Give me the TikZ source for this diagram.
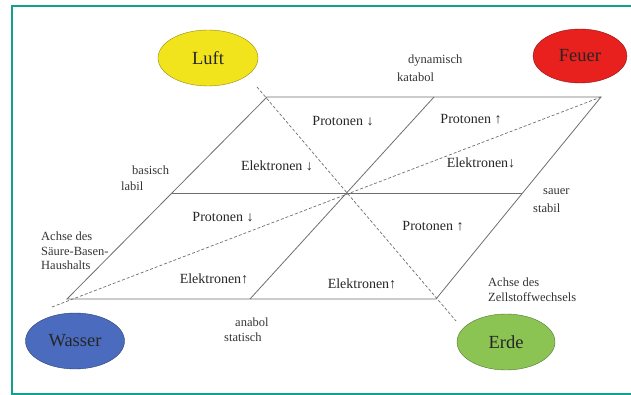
\documentclass[tikz,border=0pt]{standalone}
\usepackage{fontspec}
\setmainfont{Liberation Serif}
\usepackage{tikz}
\usetikzlibrary{shapes.geometric}
\definecolor{cframe}{HTML}{12A08E}
\definecolor{cluft}{HTML}{F2E41C}
\definecolor{cfeuer}{HTML}{E8201E}
\definecolor{cwasser}{HTML}{4A6BBE}
\definecolor{cerde}{HTML}{8CC454}
\definecolor{cline}{HTML}{6E6E6E}

\begin{document}
\begin{tikzpicture}[x=1pt, y=-1pt,
  elem/.style={ellipse, draw=#1!60!black, fill=#1, inner sep=0pt,
               font=\fontsize{18.5}{20}\selectfont, text=black!85},
  edge/.style={cline, line width=0.8pt},
  axis/.style={cline, line width=0.7pt, dashed, dash pattern=on 3pt off 2pt},
  cell/.style={font=\fontsize{14}{16}\selectfont, text=black!85},
  lbl/.style={font=\fontsize{12.5}{15}\selectfont, text=black!80, anchor=west, inner sep=0pt}
]
\useasboundingbox (0,0) rectangle (631,395);
\draw[cframe, line width=2pt] (640,6.5) -- (11.5,6.5) -- (11.5,393.5) -- (640,393.5);

\node[elem=cluft,   minimum width=100pt, minimum height=56pt] (luft)   at (208,58)  {Luft};
\node[elem=cfeuer,  minimum width=94pt,  minimum height=54pt] (feuer)  at (580,56)  {Feuer};
\node[elem=cwasser, minimum width=99pt,  minimum height=56pt] (wasser) at (75,341)  {Wasser};
\node[elem=cerde,   minimum width=98pt,  minimum height=56pt] (erde)   at (506,342) {Erde};

\coordinate (tl) at (267,97);
\coordinate (tm) at (434,97);
\coordinate (tr) at (601,97);
\coordinate (ml) at (172,193);
\coordinate (mr) at (522,193);
\coordinate (bl) at (67,299);
\coordinate (bm) at (250,299);
\coordinate (br) at (436,299);
\coordinate (aL) at (257,87);
\coordinate (aE) at (456,321);
\coordinate (aW) at (52,307);

\draw[edge] (tl) -- (tr) -- (br) -- (bl) -- cycle;
\draw[edge] (ml) -- (mr);
\draw[edge] (tm) -- (bm);
\draw[axis] (aL) -- (aE);
\draw[axis] (aW) -- (tr);

\node[cell] (p1) at (343,121) {Protonen ↓};
\node[cell] (p2) at (471,119) {Protonen ↑};
\node[cell] (e1) at (277,166) {Elektronen ↓};
\node[cell] (e2) at (481,163) {Elektronen↓};
\node[cell] (p3) at (223,217) {Protonen ↓};
\node[cell] (p4) at (433,226) {Protonen ↑};
\node[cell] (e3) at (214,279) {Elektronen↑};
\node[cell] (e4) at (362,284) {Elektronen↑};

\node[lbl] (dyn)  at (408,61)  {dynamisch};
\node[lbl] (kat)  at (397,77)  {katabol};
\node[lbl] (bas)  at (132,170) {basisch};
\node[lbl] (lab)  at (121,186) {labil};
\node[lbl] (sau)  at (543,192) {sauer};
\node[lbl] (sta)  at (533,208) {stabil};
\node[lbl] (ana)  at (235,322) {anabol};
\node[lbl] (sti)  at (224,337) {statisch};
\node[lbl, align=left, font=\fontsize{12.5}{14.5}\selectfont] (sbh) at (41,251)
  {Achse des\\Säure-Basen-\\Haushalts};
\node[lbl, align=left] (zsw) at (488,289.5) {Achse des\\Zellstoffwechsels};
\end{tikzpicture}
\end{document}
